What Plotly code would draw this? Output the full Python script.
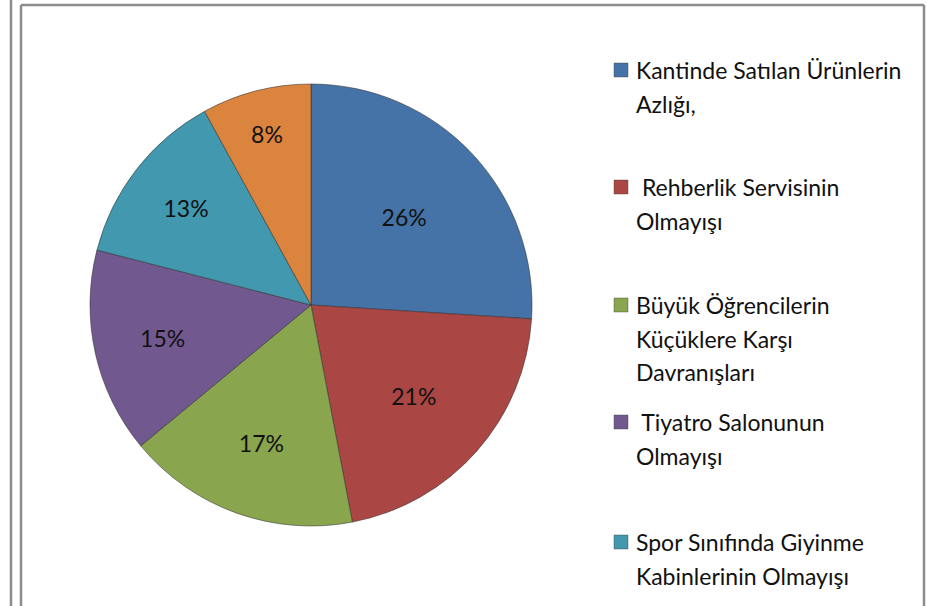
import plotly.graph_objects as go

# ---- data ----
categories = [
    "Kantinde Satılan Ürünlerin<br>Azlığı,",
    " Rehberlik Servisinin<br>Olmayışı",
    "Büyük Öğrencilerin<br>Küçüklere Karşı<br>Davranışları",
    " Tiyatro Salonunun<br>Olmayışı",
    "Spor Sınıfında Giyinme<br>Kabinlerinin Olmayışı",
    "Diğer",
]
values = [26, 21, 17, 15, 13, 8]
colors = ["#4572A7", "#AA4643", "#89A54E", "#71588F", "#4198AF", "#DB843D"]

W, H = 927, 606
FONT = "Lato"

fig = go.Figure()
cx, cy, r = 311, 305, 221
fig.add_trace(go.Pie(
    labels=categories,
    values=values,
    sort=False,
    direction="clockwise",
    rotation=0,
    marker=dict(colors=colors, line=dict(color="rgba(50,50,50,0.55)", width=1)),
    textinfo="percent",
    textposition="inside",
    insidetextorientation="horizontal",
    textfont=dict(family=FONT, size=23, color="#111111"),
    domain=dict(x=[(cx - r) / W, (cx + r) / W], y=[(H - cy - r) / H, (H - cy + r) / H]),
    showlegend=False,
    hoverinfo="label+percent",
))

# ---- manual legend (first five entries visible, as in the reference) ----
item_top = [70, 187, 305, 422, 542]
line_gap = 33.5
annotations = []
shapes = []
for i, top in enumerate(item_top):
    lines = categories[i].split("<br>")
    for j, ln in enumerate(lines):
        y = top + j * line_gap
        annotations.append(dict(
            x=634 / W, y=1 - y / H, xref="paper", yref="paper",
            text=ln.replace(" ", "&nbsp;", 1) if ln.startswith(" ") else ln,
            showarrow=False, xanchor="left", yanchor="middle",
            font=dict(family=FONT, size=23, color="#111111"),
        ))
    shapes.append(dict(
        type="rect", xref="paper", yref="paper",
        x0=614 / W, x1=628 / W, y0=1 - (top - 7) / H, y1=1 - (top + 7) / H,
        fillcolor=colors[i], line=dict(color="rgba(60,60,60,0.5)", width=0.8),
    ))

# ---- frame lines ----
frame = "#8c8c8c"
shapes += [
    dict(type="line", xref="paper", yref="paper", x0=11 / W, x1=11 / W, y0=0, y1=1,
         line=dict(color=frame, width=2.5)),
    dict(type="line", xref="paper", yref="paper", x0=21 / W, x1=21 / W, y0=0, y1=1 - 5 / H,
         line=dict(color=frame, width=2.5)),
    dict(type="line", xref="paper", yref="paper", x0=21 / W, x1=924 / W, y0=1 - 5 / H, y1=1 - 5 / H,
         line=dict(color=frame, width=2.5)),
    dict(type="line", xref="paper", yref="paper", x0=924 / W, x1=924 / W, y0=0, y1=1 - 5 / H,
         line=dict(color=frame, width=2.5)),
]

fig.update_layout(
    width=W, height=H,
    margin=dict(l=0, r=0, t=0, b=0),
    paper_bgcolor="white",
    plot_bgcolor="white",
    annotations=annotations,
    shapes=shapes,
)

fig.write_html(
    "out.html",
    config={"displayModeBar": False},
    post_script="document.body.style.margin='0';document.body.style.overflow='hidden';",
)
